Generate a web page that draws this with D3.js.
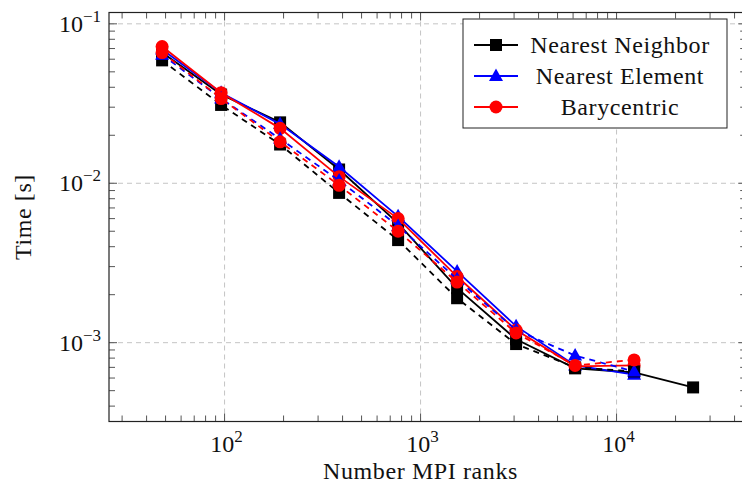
<!DOCTYPE html>
<html>
<head>
<meta charset="utf-8">
<script src="https://cdn.jsdelivr.net/npm/d3@7"></script>
<style>
  body { margin: 0; background: white; }
  text { font-family: "Liberation Serif", "DejaVu Serif", serif; fill: #111; }
</style>
</head>
<body>
<div id="container"></div>
<script>
let w = 742;
let h = 488;

// MPI ranks
let ranks = [48, 96, 192, 384, 768, 1536, 3072, 6144, 12288, 24576];

// time [s], solid runs
let nnSolid = [0.066, 0.036, 0.0241, 0.0122, 0.0056, 0.0022, 0.00105, 0.00069, 0.00065, 0.000524];
let neSolid = [0.069, 0.037, 0.0235, 0.0127, 0.0062, 0.0028, 0.00127, 0.00072, 0.00063];
let baSolid = [0.072, 0.037, 0.0221, 0.0110, 0.0060, 0.0026, 0.00120, 0.00071, 0.00072];

// time [s], dashed runs
let nnDashed = [0.059, 0.031, 0.0175, 0.0087, 0.0044, 0.0019, 0.00098, 0.00070, 0.00066];
let neDashed = [0.064, 0.034, 0.0190, 0.0104, 0.0054, 0.0025, 0.00120, 0.00083, 0.00066];
let baDashed = [0.066, 0.034, 0.0182, 0.0097, 0.0050, 0.0024, 0.00115, 0.00072, 0.00078];

let legendNames = ["Nearest Neighbor", "Nearest Element", "Barycentric"];
let xTickLabels = ["2", "3", "4"];
let yTickLabels = ["\u22121", "\u22122", "\u22123"];

let series = [
  {name: "Nearest Neighbor", values: nnSolid, color: "black", marker: "square", dash: null},
  {name: "Nearest Element", values: neSolid, color: "blue", marker: "triangle", dash: null},
  {name: "Barycentric", values: baSolid, color: "red", marker: "circle", dash: null},
  {name: "Nearest Neighbor", values: nnDashed, color: "black", marker: "square", dash: "6,5"},
  {name: "Nearest Element", values: neDashed, color: "blue", marker: "triangle", dash: "6,5"},
  {name: "Barycentric", values: baDashed, color: "red", marker: "circle", dash: "6,5"}
];

let pLeft = 109, pRight = 746.2, pTop = 12.5, pBottom = 421.5;

// pgfplots style enlargement: 10% of the log span on each side
function enlarged(vals){
  let lo = Math.log10(d3.min(vals)), hi = Math.log10(d3.max(vals));
  let pad = (hi - lo) * 0.1;
  return [Math.pow(10, lo - pad), Math.pow(10, hi + pad)];
}

let allTimes = [].concat(nnSolid, neSolid, baSolid, nnDashed, neDashed, baDashed);
let xScale = d3.scaleLog().domain(enlarged(ranks)).range([pLeft, pRight]);
let yScale = d3.scaleLog().domain(enlarged(allTimes)).range([pBottom, pTop]);

let viz = d3.select("#container")
  .append("svg")
    .attr("width", w)
    .attr("height", h)
    .style("background-color", "white")
;

let xMajor = [100, 1000, 10000];
let yMajor = [0.1, 0.01, 0.001];

function minorTicks(scale){
  let d = scale.domain();
  let out = [];
  for (let e = Math.floor(Math.log10(d[0])); e <= Math.ceil(Math.log10(d[1])); e++){
    for (let m = 2; m <= 9; m++){
      let v = m * Math.pow(10, e);
      if (v >= d[0] && v <= d[1]) out.push(v);
    }
  }
  return out;
}

// grid
let grid = viz.append("g").attr("stroke", "#c4c4c4").attr("stroke-width", 1).attr("stroke-dasharray", "5,4");
grid.selectAll(".gx").data(xMajor).enter().append("line")
  .attr("x1", d => xScale(d)).attr("x2", d => xScale(d))
  .attr("y1", pTop).attr("y2", pBottom);
grid.selectAll(".gy").data(yMajor).enter().append("line")
  .attr("x1", pLeft).attr("x2", pRight)
  .attr("y1", d => yScale(d)).attr("y2", d => yScale(d));

// ticks on all four sides, pointing inward
let ticks = viz.append("g").attr("stroke", "#555").attr("stroke-width", 1);
function drawXTicks(vals, len){
  ticks.selectAll(null).data(vals).enter().append("line")
    .attr("x1", d => xScale(d)).attr("x2", d => xScale(d))
    .attr("y1", pBottom).attr("y2", pBottom - len);
  ticks.selectAll(null).data(vals).enter().append("line")
    .attr("x1", d => xScale(d)).attr("x2", d => xScale(d))
    .attr("y1", pTop).attr("y2", pTop + len);
}
function drawYTicks(vals, len){
  ticks.selectAll(null).data(vals).enter().append("line")
    .attr("x1", pLeft).attr("x2", pLeft + len)
    .attr("y1", d => yScale(d)).attr("y2", d => yScale(d));
  ticks.selectAll(null).data(vals).enter().append("line")
    .attr("x1", pRight).attr("x2", pRight - len)
    .attr("y1", d => yScale(d)).attr("y2", d => yScale(d));
}
drawXTicks(xMajor, 8);
drawXTicks(minorTicks(xScale), 6);
drawYTicks(yMajor, 8);
drawYTicks(minorTicks(yScale), 6);

// frame
viz.append("rect")
  .attr("x", pLeft).attr("y", pTop)
  .attr("width", pRight - pLeft).attr("height", pBottom - pTop)
  .attr("fill", "none").attr("stroke", "#222").attr("stroke-width", 1.2);

// tick labels
let xl = viz.selectAll(".xlab").data(xMajor).enter().append("text")
  .attr("x", d => xScale(d) + 2).attr("y", pBottom + 30)
  .attr("text-anchor", "middle")
  .style("font-size", "24px");
xl.append("tspan").text("10");
xl.append("tspan").attr("dy", -10).style("font-size", "17px").text((d, i) => xTickLabels[i]);

let yl = viz.selectAll(".ylab").data(yMajor).enter().append("text")
  .attr("x", pLeft - 8).attr("y", d => yScale(d) + 8)
  .attr("text-anchor", "end")
  .style("font-size", "24px");
yl.append("tspan").text("10");
yl.append("tspan").attr("dy", -10).style("font-size", "17px").text((d, i) => yTickLabels[i]);

// axis titles
viz.append("text")
  .attr("x", (pLeft + 742) / 2 - 5).attr("y", 479)
  .attr("text-anchor", "middle")
  .style("font-size", "24px")
  .style("letter-spacing", "0.6px")
  .text("Number MPI ranks");
viz.append("text")
  .attr("transform", "translate(31," + ((pTop + pBottom) / 2) + ") rotate(-90)")
  .attr("text-anchor", "middle")
  .style("font-size", "24px")
  .style("letter-spacing", "0.6px")
  .text("Time [s]");

function drawMarker(g, type, color){
  if (type == "square") {
    g.append("rect").attr("x", -6).attr("y", -6).attr("width", 12).attr("height", 12).attr("fill", color);
  } if (type == "triangle") {
    g.append("path").attr("d", "M0,-7.5 L7,5 L-7,5 Z").attr("fill", color);
  } if (type == "circle") {
    g.append("circle").attr("r", 6.5).attr("fill", color);
  }
}

let line = d3.line()
  .x((d, i) => xScale(ranks[i]))
  .y(d => yScale(d));

let plot = viz.append("g");
series.forEach(function(s){
  let g = plot.append("g");
  g.append("path")
    .attr("d", line(s.values))
    .attr("fill", "none")
    .attr("stroke", s.color)
    .attr("stroke-width", 1.8)
    .attr("stroke-dasharray", s.dash);
  g.selectAll(".pt").data(s.values).enter().append("g")
    .attr("transform", (d, i) => "translate(" + xScale(ranks[i]) + "," + yScale(d) + ")")
    .each(function(){ drawMarker(d3.select(this), s.marker, s.color); });
});

// legend
let legend = viz.append("g").attr("transform", "translate(463,19)");
legend.append("rect")
  .attr("width", 264).attr("height", 109)
  .attr("fill", "white").attr("stroke", "#222").attr("stroke-width", 1);
let items = legend.selectAll(".item").data(series.slice(0, 3)).enter().append("g")
  .attr("transform", (d, i) => "translate(0," + (26 + i * 31) + ")");
items.append("line")
  .attr("x1", 11).attr("x2", 55)
  .attr("stroke", d => d.color).attr("stroke-width", 1.8);
items.append("g")
  .attr("transform", "translate(33,0)")
  .each(function(d){ drawMarker(d3.select(this), d.marker, d.color); });
items.append("text")
  .attr("x", 157).attr("y", 8)
  .attr("text-anchor", "middle")
  .style("font-size", "24px")
  .style("letter-spacing", "0.6px")
  .text((d, i) => legendNames[i]);
</script>
</body>
</html>
